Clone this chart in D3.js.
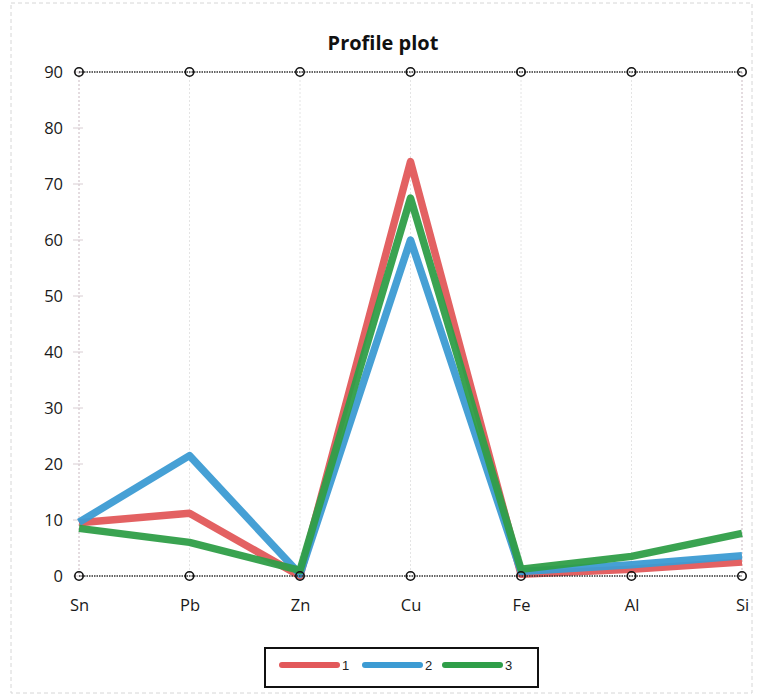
<!DOCTYPE html>
<html>
<head>
<meta charset="utf-8">
<script src="https://cdn.jsdelivr.net/npm/d3@7/dist/d3.min.js"></script>
<style>
  html, body { margin: 0; padding: 0; background: #fff; }
  svg { display: block; }
</style>
</head>
<body>
<svg id="chart" width="760" height="697"></svg>
<script>
// Element profile: composition (%) of each sample
const elements = ["Sn", "Pb", "Zn", "Cu", "Fe", "Al", "Si"];
const yTicks = [0, 10, 20, 30, 40, 50, 60, 70, 80, 90];
const seriesNames = ["1", "2", "3"];
const sample1 = [9.5, 11.2, 0.0, 74.0, 0.3, 1.2, 2.5];
const sample2 = [9.6, 21.5, 0.3, 60.0, 0.8, 2.0, 3.6];
const sample3 = [8.5, 6.0, 1.0, 67.5, 1.2, 3.5, 7.6];
const seriesColors = ["#e2585a", "#3c9bd3", "#2f9e48"];

const series = [sample1, sample2, sample3].map((values, i) => ({
  name: seriesNames[i],
  color: seriesColors[i],
  values
}));

const svg = d3.select("#chart");

// faint outer frame
svg.append("rect")
  .attr("x", 11).attr("y", 3).attr("width", 741).attr("height", 690)
  .attr("fill", "none").attr("stroke", "#d6d6d6")
  .attr("stroke-width", 1).attr("stroke-dasharray", "4,3");

const x = d3.scalePoint().domain(elements).range([79, 742]);
const y = d3.scaleLinear().domain([0, 90]).range([576, 72]);

// title
svg.append("text")
  .attr("x", 383).attr("y", 50)
  .attr("text-anchor", "middle")
  .attr("font-family", "'Open Sans', 'Noto Sans', sans-serif")
  .attr("font-weight", "bold")
  .attr("font-size", 20)
  .attr("fill", "#111")
  .text("Profile plot");

// vertical dotted guides at each element
svg.append("g")
  .selectAll("line")
  .data(elements)
  .join("line")
  .attr("x1", d => x(d)).attr("x2", d => x(d))
  .attr("y1", y(90)).attr("y2", y(0))
  .attr("stroke", d => (d === "Sn" || d === "Si") ? "#c9b8c0" : "#e4e4e4")
  .attr("stroke-width", 1)
  .attr("stroke-dasharray", "2,2");

// small tick marks on the left axis
svg.append("g")
  .selectAll("line")
  .data(yTicks)
  .join("line")
  .attr("x1", x("Sn") - 6).attr("x2", x("Sn") + 4)
  .attr("y1", d => y(d)).attr("y2", d => y(d))
  .attr("stroke", "#d8cdd2").attr("stroke-width", 1);

// y axis labels
const yAxis = d3.axisLeft(y).tickValues(yTicks).tickSize(0).tickPadding(0);
const gy = svg.append("g")
  .attr("transform", `translate(${x("Sn") - 16},0)`)
  .call(yAxis);
gy.select(".domain").remove();
gy.selectAll("text")
  .attr("font-family", "'Open Sans', 'Noto Sans', sans-serif")
  .attr("font-size", 16.5)
  .attr("fill", "#1a1a1a");

// x axis labels
const xAxis = d3.axisBottom(x).tickSize(0).tickPadding(0);
const gx = svg.append("g")
  .attr("transform", `translate(0,${y(0) + 23})`)
  .call(xAxis);
gx.select(".domain").remove();
gx.selectAll("text")
  .attr("font-family", "'Open Sans', 'Noto Sans', sans-serif")
  .attr("font-size", 16.5)
  .attr("fill", "#1a1a1a");

// data lines
const line = d3.line()
  .x((d, i) => x(elements[i]))
  .y(d => y(d));

svg.append("g")
  .selectAll("path")
  .data(series)
  .join("path")
  .attr("d", d => line(d.values))
  .attr("fill", "none")
  .attr("stroke", d => d.color)
  .attr("stroke-width", 7.5)
  .attr("stroke-linejoin", "round")
  .attr("stroke-linecap", "butt")
  .attr("opacity", 0.95);

// dark dotted boundary lines at 0 and 90 with circle markers
[0, 90].forEach(v => {
  svg.append("line")
    .attr("x1", x("Sn")).attr("x2", x("Si"))
    .attr("y1", y(v)).attr("y2", y(v))
    .attr("stroke", "#333")
    .attr("stroke-width", 1.6)
    .attr("stroke-dasharray", "1.5,1");
  svg.append("g")
    .selectAll("circle")
    .data(elements)
    .join("circle")
    .attr("cx", d => x(d)).attr("cy", y(v))
    .attr("r", 4.2)
    .attr("fill", "none")
    .attr("stroke", "#111")
    .attr("stroke-width", 1.6);
});

// legend
const legend = svg.append("g");
legend.append("rect")
  .attr("x", 265).attr("y", 648).attr("width", 273).attr("height", 39)
  .attr("fill", "#fff").attr("stroke", "#111").attr("stroke-width", 2);

const legendX = [282, 365, 445];
const items = legend.selectAll("g.item")
  .data(series)
  .join("g")
  .attr("class", "item")
  .attr("transform", (d, i) => `translate(${legendX[i]},665)`);
items.append("line")
  .attr("x1", 0).attr("x2", 55)
  .attr("y1", 0).attr("y2", 0)
  .attr("stroke", d => d.color)
  .attr("stroke-width", 6)
  .attr("stroke-linecap", "round");
items.append("text")
  .attr("x", 60).attr("y", 5)
  .attr("font-family", "'Liberation Sans', Arial, sans-serif")
  .attr("font-size", 13)
  .attr("fill", "#222")
  .text(d => d.name);
</script>
</body>
</html>
